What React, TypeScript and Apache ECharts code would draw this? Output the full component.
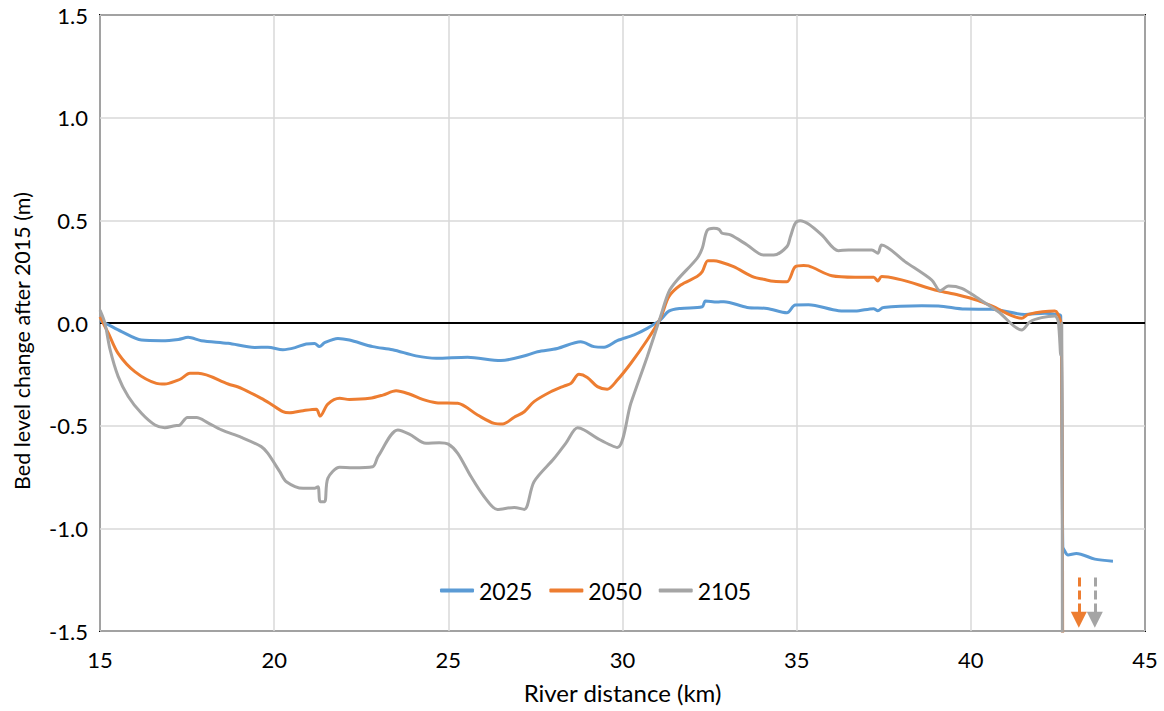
import React, { useEffect, useRef } from "react";
import * as echarts from "echarts";

// River distance (km) and bed level change (m) per scenario year
const km2025 = [15.0, 15.14, 15.62, 16.19, 16.77, 17.25, 17.53, 17.91, 18.68, 19.44, 19.82, 20.25, 20.6, 20.92, 21.16, 21.3, 21.45, 21.83, 22.16, 22.83, 23.4, 24.07, 24.65, 25.55, 26.51, 27.27, 27.56, 28.13, 28.8, 29.18, 29.47, 29.85, 30.33, 30.71, 31.09, 31.33, 31.67, 32.29, 32.38, 32.72, 32.91, 33.58, 34.15, 34.72, 34.96, 35.34, 36.2, 36.68, 37.21, 37.33, 37.49, 38.59, 39.07, 39.83, 40.6, 41.55, 42.12, 42.45, 42.58, 42.64, 42.68, 42.79, 43.03, 43.56, 44.08];
const bed2025 = [0.01, 0.0, -0.042, -0.083, -0.086, -0.08, -0.07, -0.086, -0.099, -0.119, -0.118, -0.13, -0.12, -0.102, -0.1, -0.115, -0.096, -0.075, -0.083, -0.115, -0.13, -0.16, -0.172, -0.167, -0.183, -0.156, -0.14, -0.124, -0.091, -0.115, -0.118, -0.086, -0.058, -0.026, 0.015, 0.058, 0.071, 0.079, 0.107, 0.102, 0.104, 0.076, 0.071, 0.05, 0.088, 0.089, 0.06, 0.058, 0.07, 0.06, 0.076, 0.084, 0.083, 0.068, 0.067, 0.042, 0.047, 0.042, 0.035, -1.09, -1.106, -1.13, -1.122, -1.15, -1.16];

const km2050 = [15.0, 15.24, 15.52, 16.0, 16.62, 16.86, 17.24, 17.34, 17.58, 17.82, 18.68, 19.06, 19.63, 19.87, 20.25, 20.44, 20.83, 21.21, 21.32, 21.54, 21.88, 22.16, 22.74, 23.12, 23.5, 23.88, 24.26, 24.65, 25.27, 25.84, 26.32, 26.56, 26.89, 27.18, 27.46, 27.94, 28.32, 28.52, 28.75, 28.99, 29.28, 29.56, 29.85, 30.24, 30.71, 31.09, 31.33, 31.67, 32.14, 32.29, 32.45, 32.62, 32.81, 33.19, 33.77, 34.05, 34.34, 34.72, 34.96, 35.2, 35.34, 36.01, 36.68, 37.21, 37.33, 37.44, 39.07, 39.64, 40.21, 40.6, 41.46, 41.65, 42.41, 42.49, 42.6, 42.64];
const bed2050 = [0.03, -0.05, -0.148, -0.237, -0.294, -0.297, -0.278, -0.27, -0.245, -0.245, -0.297, -0.318, -0.367, -0.391, -0.432, -0.437, -0.427, -0.42, -0.453, -0.395, -0.367, -0.372, -0.367, -0.351, -0.33, -0.346, -0.372, -0.388, -0.391, -0.448, -0.489, -0.492, -0.459, -0.432, -0.383, -0.335, -0.307, -0.294, -0.25, -0.265, -0.31, -0.323, -0.278, -0.196, -0.083, 0.023, 0.128, 0.185, 0.226, 0.25, 0.303, 0.303, 0.297, 0.274, 0.223, 0.213, 0.203, 0.201, 0.274, 0.28, 0.278, 0.23, 0.223, 0.223, 0.205, 0.226, 0.157, 0.136, 0.109, 0.083, 0.023, 0.042, 0.058, 0.047, -0.01, -2.0];

const km2105 = [15.0, 15.14, 15.29, 15.52, 15.81, 16.19, 16.58, 16.86, 17.15, 17.29, 17.51, 17.77, 18.1, 18.49, 19.06, 19.63, 19.82, 20.16, 20.35, 20.83, 21.16, 21.26, 21.32, 21.45, 21.54, 21.88, 22.26, 22.83, 22.98, 23.55, 23.88, 24.36, 24.74, 25.0, 25.27, 25.65, 26.03, 26.41, 26.89, 27.18, 27.46, 28.04, 28.37, 28.71, 28.9, 29.28, 29.85, 30.24, 30.71, 31.09, 31.33, 31.57, 32.14, 32.29, 32.43, 32.62, 32.77, 32.86, 33.1, 33.58, 34.05, 34.34, 34.72, 34.82, 34.96, 35.1, 35.34, 35.72, 36.2, 36.49, 37.16, 37.33, 37.44, 38.11, 38.88, 39.12, 39.36, 39.74, 40.21, 40.79, 41.46, 41.7, 42.03, 42.41, 42.51, 42.58, 42.61, 42.63];
const bed2105 = [0.063, 0.0, -0.13, -0.26, -0.358, -0.44, -0.497, -0.51, -0.5, -0.497, -0.46, -0.46, -0.486, -0.521, -0.557, -0.602, -0.635, -0.724, -0.773, -0.805, -0.805, -0.797, -0.87, -0.87, -0.757, -0.703, -0.705, -0.7, -0.651, -0.521, -0.541, -0.586, -0.583, -0.59, -0.635, -0.748, -0.846, -0.908, -0.898, -0.908, -0.773, -0.659, -0.586, -0.51, -0.521, -0.562, -0.606, -0.391, -0.164, 0.031, 0.152, 0.209, 0.315, 0.364, 0.45, 0.461, 0.456, 0.437, 0.429, 0.38, 0.331, 0.331, 0.372, 0.42, 0.486, 0.498, 0.482, 0.429, 0.352, 0.356, 0.356, 0.34, 0.38, 0.299, 0.209, 0.157, 0.18, 0.169, 0.12, 0.055, -0.034, 0.006, 0.026, 0.034, 0.006, -0.156, 0.0, -2.0];

const seriesNames = ["2025", "2050", "2105"];
const seriesColors = ["#5B9BD5", "#ED7D31", "#A5A5A5"];

// Off-scale indicator arrows (km position, dashed from top value to tip value)
const arrowKm2050 = 43.1;
const arrowKm2105 = 43.56;
const arrowFrom = -1.24;
const arrowTo = -1.445;

const xTicks = { min: 15, max: 45, interval: 5 };
const yTicks = { min: -1.5, max: 1.5, interval: 0.5 };

const yTitle = "Bed level change after 2015 (m)";
const xTitle = "River distance (km)";

const FONT = "Lato, 'Open Sans', sans-serif";

function pairs(xs: number[], ys: number[]) {
  return xs.map((x, i) => [x, ys[i]]);
}

function arrowMark(km: number, color: string) {
  return {
    silent: true,
    animation: false,
    symbol: ["none", "triangle"],
    symbolSize: [16, 16],
    label: { show: false },
    emphasis: { disabled: true },
    lineStyle: { color, width: 3, type: [9, 4] },
    data: [[{ coord: [km, arrowFrom] }, { coord: [km, arrowTo] }]],
  };
}

export default function App() {
  const ref = useRef<HTMLDivElement>(null);
  useEffect(() => {
    if (!ref.current) return;
    const chart = echarts.init(ref.current, null, { renderer: "svg" });
    const data = [pairs(km2025, bed2025), pairs(km2050, bed2050), pairs(km2105, bed2105)];
    const series: any[] = data.map((d, i) => ({
      name: seriesNames[i],
      type: "line",
      data: d,
      symbol: "none",
      showSymbol: false,
      smooth: 0.3,
      clip: true,
      lineStyle: { color: seriesColors[i], width: 3 },
      itemStyle: { color: seriesColors[i] },
      emphasis: { disabled: true },
    }));
    series[0].markLine = {
      silent: true,
      z: 1,
      symbol: "none",
      label: { show: false },
      emphasis: { disabled: true },
      lineStyle: { color: "#000", width: 2, type: "solid" },
      data: [{ yAxis: 0 }],
    };
    series[1].markLine = arrowMark(arrowKm2050, seriesColors[1]);
    series[2].markLine = arrowMark(arrowKm2105, seriesColors[2]);

    chart.setOption({
      animation: false,
      backgroundColor: "#fff",
      textStyle: { fontFamily: FONT },
      grid: {
        left: 100,
        right: 19,
        top: 15,
        bottom: 80,
        show: true,
        borderColor: "#000",
        borderWidth: 2,
        backgroundColor: "transparent",
      },
      graphic: [
        {
          type: "text",
          x: 22,
          y: 341,
          rotation: Math.PI / 2,
          silent: true,
          style: {
            text: yTitle,
            align: "center",
            verticalAlign: "middle",
            fontSize: 21.5,
            fontFamily: FONT,
            fill: "#000",
          },
        },
      ],
      legend: {
        data: seriesNames.map((n) => ({ name: n, icon: "roundRect" })),
        left: 440,
        top: 579,
        itemWidth: 34,
        itemHeight: 4,
        itemGap: 17,
        padding: 0,
        textStyle: { fontSize: 23, color: "#000", fontFamily: FONT },
      },
      xAxis: {
        type: "value",
        min: xTicks.min,
        max: xTicks.max,
        interval: xTicks.interval,
        name: xTitle,
        nameLocation: "middle",
        nameGap: 49,
        nameTextStyle: { fontSize: 24, color: "#000", fontFamily: FONT },
        axisLine: { show: false },
        axisTick: { show: false },
        axisLabel: { fontSize: 22, color: "#000", margin: 17, fontFamily: FONT },
        splitLine: { show: true, lineStyle: { color: "#D9D9D9", width: 1.5 } },
      },
      yAxis: {
        type: "value",
        min: yTicks.min,
        max: yTicks.max,
        interval: yTicks.interval,
        axisLine: { show: false },
        axisTick: { show: false },
        axisLabel: {
          fontSize: 22,
          color: "#000",
          margin: 12,
          fontFamily: FONT,
          formatter: (v: number) => v.toFixed(1),
        },
        splitLine: { show: true, lineStyle: { color: "#D9D9D9", width: 1.5 } },
      },
      series,
    });
    return () => chart.dispose();
  }, []);
  return (
    <div
      ref={ref}
      style={{ position: "fixed", left: 0, top: 0, width: 1164, height: 711, background: "#fff" }}
    />
  );
}
